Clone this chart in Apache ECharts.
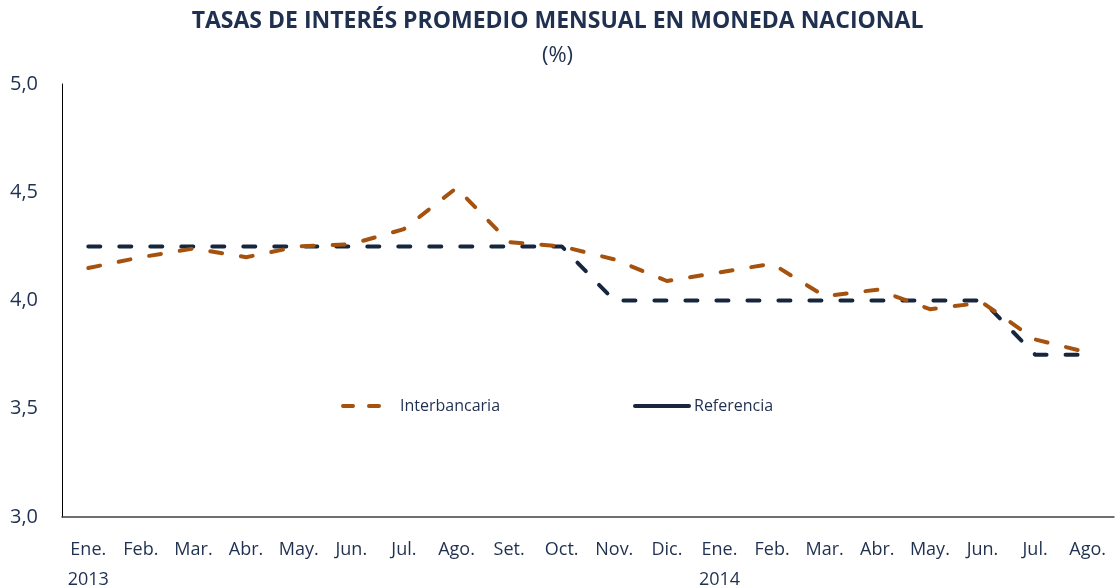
<!DOCTYPE html>
<html><head><meta charset="utf-8">
<script src="https://cdn.jsdelivr.net/npm/echarts@6/dist/echarts.min.js"></script>
<style>html,body{margin:0;padding:0;background:#fff;overflow:hidden}#c{width:1115px;height:588px}</style>
</head><body><div id="c"></div>
<script>
const categories = ['Ene.\n2013','Feb.','Mar.','Abr.','May.','Jun.','Jul.','Ago.','Set.','Oct.','Nov.','Dic.','Ene.\n2014','Feb.','Mar.','Abr.','May.','Jun.','Jul.','Ago.'];
const interbancaria = [4.15,4.20,4.24,4.20,4.25,4.26,4.33,4.52,4.27,4.25,4.19,4.09,4.13,4.17,4.02,4.05,3.96,3.99,3.82,3.76];
const referencia = [4.25,4.25,4.25,4.25,4.25,4.25,4.25,4.25,4.25,4.25,4.00,4.00,4.00,4.00,4.00,4.00,4.00,4.00,3.75,3.75];
const yTicks = {min:3.0, max:5.0, interval:0.5};

const txt = '#1F3050';
const font = 'Open Sans';
const orange = '#A4520E', navy = '#17263F';
const chart = echarts.init(document.getElementById('c'));
chart.setOption({
  animation:false,
  title:[
    {text:'TASAS DE INTERÉS PROMEDIO MENSUAL EN MONEDA NACIONAL', left:'center', top:5,
     textStyle:{fontFamily:font, fontWeight:'bold', fontSize:23, color:txt}},
    {text:'(%)', left:'center', top:40, textStyle:{fontFamily:font, fontWeight:'normal', fontSize:22, color:txt}}
  ],
  legend:[
    {top:393, left:336, itemWidth:52, itemHeight:16, itemGap:0,
     textStyle:{fontFamily:font, fontSize:16, color:txt},
     data:[{name:'Interbancaria', itemStyle:{opacity:0}, lineStyle:{type:[10,16], width:4, cap:'round'}}]},
    {top:393, left:628, itemWidth:54, itemHeight:16, itemGap:0,
     textStyle:{fontFamily:font, fontSize:16, color:txt},
     data:[{name:'Referencia', itemStyle:{opacity:0}, lineStyle:{type:'solid', width:4, cap:'round'}}]}
  ],
  grid:{left:62, right:1, top:84, bottom:71, containLabel:false, outerBoundsMode:'none'},
  xAxis:{type:'category', data:categories, boundaryGap:true,
    axisLine:{lineStyle:{color:'#404040', width:1.5}}, axisTick:{show:false},
    axisLabel:{interval:0, fontFamily:font, fontSize:18, color:txt, margin:18, lineHeight:30}},
  yAxis:{type:'value', min:yTicks.min, max:yTicks.max, interval:yTicks.interval,
    axisLine:{show:true, lineStyle:{color:'#000', width:1}}, axisTick:{show:false}, splitLine:{show:false},
    axisLabel:{fontFamily:font, fontSize:20, color:txt, margin:24, formatter:v=>v.toFixed(1).replace('.',',')}},
  series:[
    {name:'Interbancaria', type:'line', data:interbancaria, symbol:'none',
     lineStyle:{color:orange, width:4, type:[12,19], cap:'round', join:'round'}, itemStyle:{color:orange}, z:3},
    {name:'Referencia', type:'line', data:referencia, symbol:'none',
     lineStyle:{color:navy, width:4, type:[12,19], cap:'round', join:'round'}, itemStyle:{color:navy}, z:2}
  ]
});
</script></body></html>
